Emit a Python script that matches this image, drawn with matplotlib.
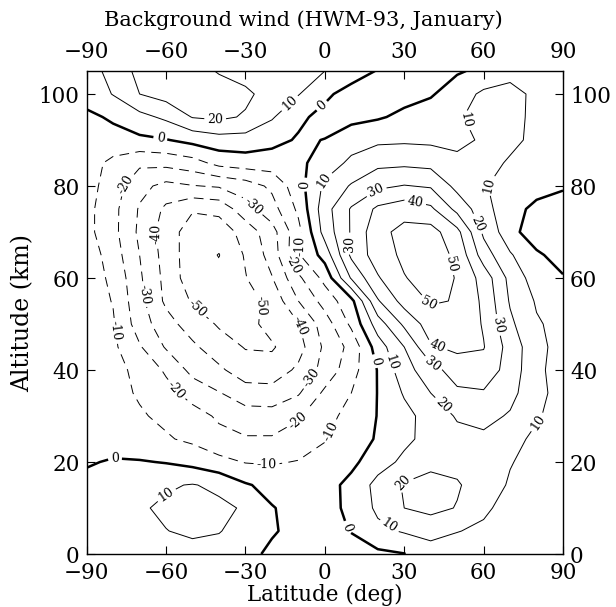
import numpy as np
import matplotlib.pyplot as plt

plt.rcParams['font.family'] = ['DejaVu Serif']

# grid: latitude (deg) x altitude (km)
lat = np.arange(-90, 91, 10)
alt = np.arange(0, 106, 5)

# zonal wind (m/s), one row per altitude, columns -90 ... 90
u_wind = np.array([
    [3, 4, 6, 7, 7, 6, 3, -2, -5, -6, -5, -2, -0.3, 6, 7, 6, 4, 3, 2],                     # 0
    [4, 6, 8, 9.8, 11.5, 10.5, 6, 1, -3, -4, 0.5, 7.5, 11, 13, 10.2, 9, 7, 5, 4],          # 5
    [5, 7, 9, 11.5, 13, 12, 9, 0.5, -3, -3, 2, 12, 20, 23, 19.5, 11, 8, 6, 4],             # 10
    [3, 5, 7, 9, 10.5, 8, 1, -3, -5, -4, 3, 13, 21, 24, 21, 15, 9, 6, 4],                  # 15
    [-1, 1, 0.7, -0.5, -3, -7, -10.5, -11, -9.5, -7, -2.5, 6, 12, 17, 17, 14, 10.5, 7, 4],  # 20
    [-3, -5, -7, -9, -12, -17, -19, -19, -16, -10.5, -5, 1, 8, 13, 17, 18, 13, 8, 5],      # 25
    [-4, -7, -9, -12, -16, -21.5, -26, -26, -21, -14, -6, 0.3, 7, 14, 21, 23, 19, 11, 6],  # 30
    [-3.5, -7, -11, -16.5, -24, -29.5, -35, -36, -31, -18, -10, 0.3, 11, 20, 28, 29, 23, 13, 6],  # 35
    [-3, -7, -12.5, -21.5, -33, -38, -46, -46, -38, -26.5, -14, 0.5, 16, 26, 35, 36, 26, 12, 6],  # 40
    [-3.5, -8, -19, -31, -38, -46, -50.5, -51, -44, -28, -17, 5, 20, 39, 42, 40.5, 26, 13, 6],    # 45
    [-4, -9, -25, -36, -45, -51, -53, -47, -40.5, -25, -8, 15, 32, 45, 49, 39, 22, 11, 7],        # 50
    [-4.5, -10.5, -27, -42, -51, -55, -54, -47, -30, -16, -3, 29, 44, 51, 49.5, 38, 19, 9, 4],    # 55
    [-5, -12, -28.5, -43, -56, -58, -50.5, -40.5, -22, -7, 21, 39, 49.5, 54, 49.5, 36, 17, 5, 1], # 60
    [-4, -15, -30, -44, -56, -60.3, -49, -36, -11, 4, 32, 45, 52, 55, 48, 25, 11, 2, -5],         # 65
    [-7, -17, -32, -45, -55, -56, -46, -34, -13, 14, 31, 47, 53, 54, 43, 18, 4, -7, -9],          # 70
    [-7, -17, -31, -42, -49, -47, -34, -24, -8, 16, 31, 42, 46, 42, 27, 14, 3, -2, -4],           # 75
    [-6, -15, -27, -33, -30.5, -29, -25, -18, -4, 12, 21, 28, 30.5, 29, 17, 11, 5, 3, 1],         # 80
    [-5, -13, -18, -17, -14, -7, -5, -5, -2.5, 5, 12, 17.5, 18, 17, 12, 13, 9, 5, 3],             # 85
    [-3, -2.5, -2, -0.5, 3, 6, 6, 3, -1, 0.2, 6, 8, 8.5, 8, 8, 11, 12, 8, 5],                     # 90
    [-1.5, 1, 7, 12, 20.5, 22, 19, 11, 2, -3, -3, -1, 2, 5, 9, 13, 14, 7, 4],                     # 95
    [3, 10.5, 20, 24, 26, 26, 22, 16, 10.5, 2, -4, -4, -3, -1, 5, 12, 13, 8, 5],                  # 100
    [6, 13, 23, 27, 25, 19, 16, 13, 11, 10, 5, -0.6, -2, -2, -1, 2, 7, 6, 5],                     # 105
])

neg_levels = [-60, -50, -40, -30, -20, -10]
pos_levels = [10, 20, 30, 40, 50]

# where the reference puts its contour labels
neg_labels = [(-75.5, 80.5), (-27.5, 75.5), (-64.5, 69.5), (-9.8, 67), (-12, 63),
              (-27, 54), (-49, 53), (-68, 56.5), (-79, 48.5), (-8.5, 49.8),
              (-55.5, 36), (-4.5, 38), (-10.6, 29.4), (1.9, 26.8), (-22, 19.7)]
zero_labels = [(-62, 91), (-3, 98.7), (-7.5, 80.3), (-79.3, 21), (8.7, 5.8), (19.6, 42)]
pos_labels = [(-41.5, 94), (-14.4, 98.7), (-61, 13.8), (23.8, 5.6), (31, 14.5),
              (80.5, 28.6), (44.6, 32.3), (40.4, 41), (42.3, 45), (24.6, 41.5),
              (39, 54.3), (67, 50), (48, 63), (34, 76), (19.6, 78.8), (7.6, 67.5),
              (58.6, 72), (61, 80.5), (52, 94), (2, 80.5)]

fig = plt.figure(figsize=(6.16, 6.07), dpi=100)
ax = fig.add_axes([0.1407, 0.0873, 0.7733, 0.7957])

cs_neg = ax.contour(lat, alt, u_wind, levels=neg_levels, colors='k',
                    linewidths=0.7, linestyles=[(0, (10, 6.5))])
cs_zero = ax.contour(lat, alt, u_wind, levels=[0], colors='k', linewidths=1.8)
cs_pos = ax.contour(lat, alt, u_wind, levels=pos_levels, colors='k', linewidths=0.7)

for cs, pts in [(cs_neg, neg_labels), (cs_zero, zero_labels), (cs_pos, pos_labels)]:
    ax.clabel(cs, fmt='%d', inline=True, fontsize=9, manual=pts, inline_spacing=3)

ax.set_xlim(-90, 90)
ax.set_ylim(0, 105)
ax.set_xticks(np.arange(-90, 91, 30))
ax.set_yticks(np.arange(0, 101, 20))
ax.tick_params(direction='in', top=True, right=True, labeltop=True, labelright=True,
               length=6, width=0.8, labelsize=15.5)
ax.tick_params(axis='x', pad=6)
ax.tick_params(axis='y', pad=5)
for s in ax.spines.values():
    s.set_linewidth(1.0)

fig.text(0.5275, 1 - 595 / 607, 'Latitude (deg)', ha='center', va='center', fontsize=15.5)
ax.set_ylabel('Altitude (km)', fontsize=17, labelpad=3)
fig.text(0.493, 1 - 26 / 607, 'Background wind (HWM-93, January)', ha='center',
         va='baseline', fontsize=15)

plt.savefig('out.png', dpi=100)
